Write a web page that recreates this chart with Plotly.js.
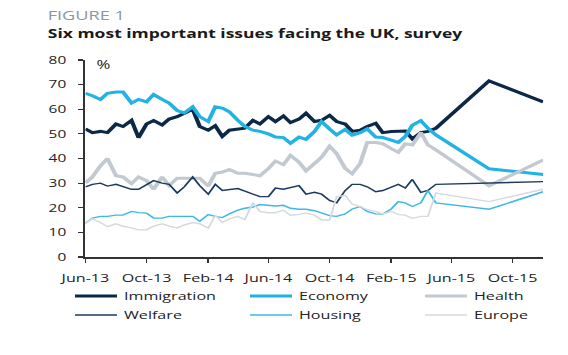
<!DOCTYPE html>
<html>
<head>
<meta charset="utf-8">
<script src="https://cdn.plot.ly/plotly-3.0.1.min.js"></script>
<style>
html,body{margin:0;padding:0;background:#fff;}
#wrap{width:568px;height:355px;overflow:hidden;position:relative;}
#chart{width:430px;height:355px;transform:scaleX(1.4);transform-origin:0 0;}
</style>
</head>
<body>
<div id="wrap"><div id="chart"></div></div>
<script>
var dates = ['2013-06-01','2013-06-15','2013-07-01','2013-07-15','2013-08-01','2013-08-15','2013-09-01','2013-09-15','2013-10-01','2013-10-15','2013-11-01','2013-11-15','2013-12-01','2013-12-15',
'2014-01-01','2014-01-15','2014-02-01','2014-02-15','2014-03-01','2014-03-15','2014-04-01','2014-04-15','2014-05-01','2014-05-15','2014-06-01','2014-06-15','2014-07-01','2014-07-15','2014-08-01','2014-08-15','2014-09-01','2014-09-15','2014-10-01','2014-10-15','2014-11-01','2014-11-15','2014-12-01','2014-12-15',
'2015-01-01','2015-01-15','2015-02-01','2015-02-15','2015-03-01','2015-03-15','2015-04-01','2015-04-15','2015-05-01','2015-08-15','2015-12-01'];

var immigration = [52,50.5,51,50.5,54,53,55.5,48.5,54,55.4,53.6,56,57,58.5,60,53,51.5,53.3,49,51.5,52,52.3,55.5,54,57,55,57.3,54.6,56,58.4,55,55.5,57.5,55,54,51,51.5,53,54.3,50.5,51,51,51.2,48,50.5,51,52.3,71.5,63];
var economy = [66.5,65.5,64,66.5,67,67,62.5,64,63,66,64,62.5,59.5,58.5,61,57,55,61,60.5,59,55.5,53,51.5,51,50,48.7,48.5,46.2,48.7,47.8,51,55,52,49.6,51.8,49.5,50.5,52,48.7,48.5,47.5,46.5,49,53.5,55.4,52.3,49.6,35.8,33.5];
var health = [30,32.5,37,40,33,32.5,29.8,32.5,31,27.5,32.5,29,32,32,31.8,32,28.8,34,34.5,35.5,34,34,33.5,33,35.9,39,37.5,41.3,38.5,35,38,40.5,45,42,36,33.8,38,46.5,46.5,46,44,42.5,46,45.5,50.5,45.5,43.5,28.9,39.4];
var welfare = [28.5,29.5,30,28.8,29.5,28.5,27.5,27.5,29.5,31,30,29.5,26,28.5,32.5,29,25.5,29.5,27,27.3,27.8,26.8,25.5,24.5,24.5,28,27.5,28.2,29,25.5,26.3,25.5,23,22,27,29.5,29.5,28.5,26.5,27,28.5,29.5,28,31.5,26.2,27,29.5,29.9,30.6];
var housing = [13.7,15.8,16.5,16.5,17,17,18.5,18,17.8,15.8,15.8,16.5,16.5,16.5,16.5,14.5,17.2,16.5,16,17.5,19,19.8,20.3,21.3,21,20.7,21,19.8,19.4,19.4,18.8,17.8,16.8,16.5,17.5,19.5,20.5,18.5,17.5,17.4,19.5,22.5,22,20.5,22,27,22,19.4,26.5];
var europe = [13.7,15.5,14,12.3,13.5,12.5,11.8,11,11,12.5,13.5,12.5,11.8,13,14,13.5,11.7,17,14,15.5,16.5,15.2,22,18.5,18,18,19,17,17.3,17.8,17,15,15,24.5,25,21.5,20.5,19.2,18.5,17.5,18.5,17.2,17,15.7,16.5,16.5,26,22.5,27.5];

var seriesNames = ['Immigration','Economy','Health','Welfare','Housing','Europe'];
var seriesData = [immigration, economy, health, welfare, housing, europe];
var seriesColors = ['#0c2847','#22b2e4','#c2c9d0','#1b3a5e','#3cb9e8','#d6dadd'];
var seriesWidths = [3,3,3,1.4,1.4,1.4];

var traces = seriesNames.map(function(n,i){
  return {x: dates, y: seriesData[i], name: n, type:'scatter', mode:'lines',
          line:{color: seriesColors[i], width: seriesWidths[i]}};
});

var layout = {
  width: 430, height: 355,
  margin: {l:61, r:42, t:60, b:98},
  paper_bgcolor:'#fff', plot_bgcolor:'#fff',
  font: {family:'Open Sans, sans-serif', color:'#222'},
  showlegend: true,
  xaxis: {type:'date', range:['2013-06-01','2015-12-01'], tick0:'2013-06-01', dtick:'M4', tickformat:'%b-%y',
          showline:true, linecolor:'#333', linewidth:1.5, ticks:'outside', ticklen:4, tickcolor:'#333', tickwidth:1.2,
          showgrid:false, zeroline:false, tickfont:{size:11.5, color:'#222'}, ticklabelstandoff:6, fixedrange:true},
  yaxis: {range:[0,80], dtick:10, showline:true, linecolor:'#333', linewidth:1.5, ticks:'outside', ticklen:4,
          tickcolor:'#333', tickwidth:1.2, showgrid:false, zeroline:false, tickfont:{size:11, color:'#222'},
          ticklabelstandoff:6, fixedrange:true},
  legend: {orientation:'h', x:-0.038, xanchor:'left', y:-0.124, yanchor:'top', entrywidth:80, entrywidthmode:'pixels',
           font:{size:11.5, color:'#222'}, itemwidth:30, tracegroupgap:0, bgcolor:'rgba(0,0,0,0)'},
  annotations: [
    {text:'FIGURE 1', xref:'paper', yref:'paper', x:-0.089, y:1.284, xanchor:'left', yanchor:'top', showarrow:false,
     font:{size:13, color:'#8b97a1'}},
    {text:'<b>Six most important issues facing the UK, survey</b>', xref:'paper', yref:'paper', x:-0.089, y:1.188,
     xanchor:'left', yanchor:'top', showarrow:false, font:{size:12.5, color:'#1a1a1a'}},
    {text:'%', xref:'paper', yref:'y', x:0.04, y:78, xanchor:'center', yanchor:'middle', showarrow:false,
     font:{size:12, color:'#222'}}
  ]
};

Plotly.newPlot('chart', traces, layout, {displayModeBar:false, staticPlot:true});
</script>
</body>
</html>
